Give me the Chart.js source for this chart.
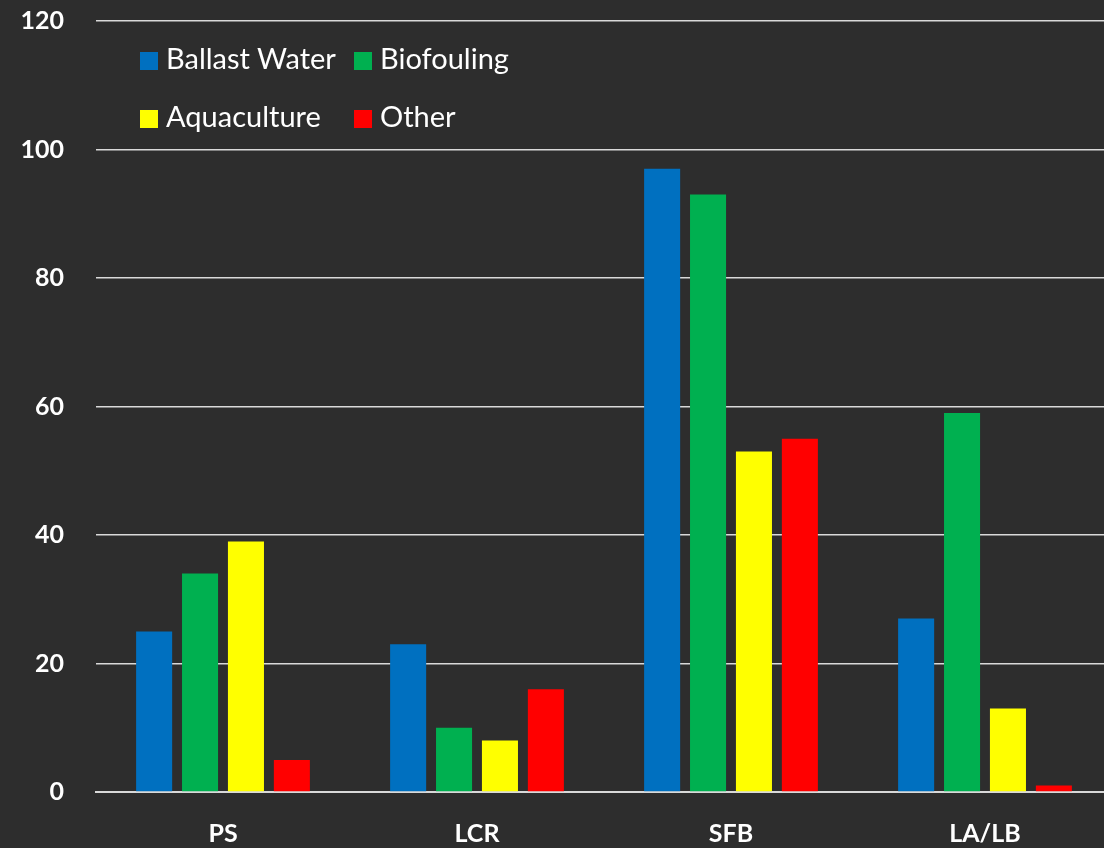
<!DOCTYPE html>
<html>
<head>
<meta charset="utf-8">
<script src="https://cdn.jsdelivr.net/npm/chart.js@4"></script>
<style>
  html, body { margin: 0; padding: 0; background: #2d2d2d; overflow: hidden; }
  #wrap { position: relative; width: 1104px; height: 848px; overflow: hidden; }
  #legend { position: absolute; left: 140px; top: 39px; width: 420px; font-family: Lato, sans-serif; font-size: 29px; color: #fff; }
  .item { position: absolute; white-space: nowrap; line-height: 38px; }
  .item span.box { display: inline-block; width: 18px; height: 18px; margin-right: 8px; vertical-align: -1px; }
</style>
</head>
<body>
<div id="wrap">
  <canvas id="chart" width="1112" height="848"></canvas>
  <div id="legend"></div>
</div>
<script>
var categories = ['PS', 'LCR', 'SFB', 'LA/LB']
var seriesNames = ['Ballast Water', 'Biofouling', 'Aquaculture', 'Other']
var ballastWater = [25, 23, 97, 27]
var biofouling = [34, 10, 93, 59]
var aquaculture = [39, 8, 53, 13]
var other = [5, 16, 55, 1]
var colors = ['#0070C0', '#00B050', '#FFFF00', '#FF0000']

var values = [ballastWater, biofouling, aquaculture, other]
var datasets = []
for (var i = 0; i < seriesNames.length; i++) {
    datasets.push({
        label: seriesNames[i],
        data: values[i],
        backgroundColor: colors[i],
        categoryPercentage: 0.723,
        barPercentage: 0.785
    })
}

// legend laid out in two rows like the original
var legendPos = [[0, 0], [214, 0], [0, 58], [214, 58]]
var legend = document.getElementById('legend')
for (var j = 0; j < seriesNames.length; j++) {
    var item = document.createElement('div')
    item.className = 'item'
    item.style.left = legendPos[j][0] + 'px'
    item.style.top = legendPos[j][1] + 'px'
    item.innerHTML = '<span class="box" style="background:' + colors[j] + '"></span>' + seriesNames[j]
    legend.appendChild(item)
}

var ctx = document.getElementById('chart').getContext('2d')
var chart = new Chart(ctx, {
    type: 'bar',
    data: { labels: categories, datasets: datasets },
    options: {
        responsive: false,
        animation: false,
        layout: { padding: { top: 21, right: 0, left: 0, bottom: 0 } },
        plugins: { legend: { display: false }, tooltip: { enabled: false } },
        scales: {
            x: {
                grid: { display: false },
                border: { color: '#d9d9d9', width: 2 },
                ticks: { color: '#fff', font: { family: 'Lato', size: 25, weight: 'bold' }, padding: 19 },
                afterFit: function (scale) { scale.height = 56 }
            },
            y: {
                min: 0,
                max: 120,
                border: { display: false },
                grid: { color: '#d9d9d9', lineWidth: 1.5, drawTicks: false },
                ticks: { stepSize: 20, color: '#fff', font: { family: 'Lato', size: 25, weight: 'bold' }, padding: 32 },
                afterFit: function (scale) {
                    scale.width = 96
                    // the tick padding is meant to be horizontal only
                    scale.paddingTop = 0
                    scale.paddingBottom = 0
                }
            }
        }
    }
})
</script>
</body>
</html>
